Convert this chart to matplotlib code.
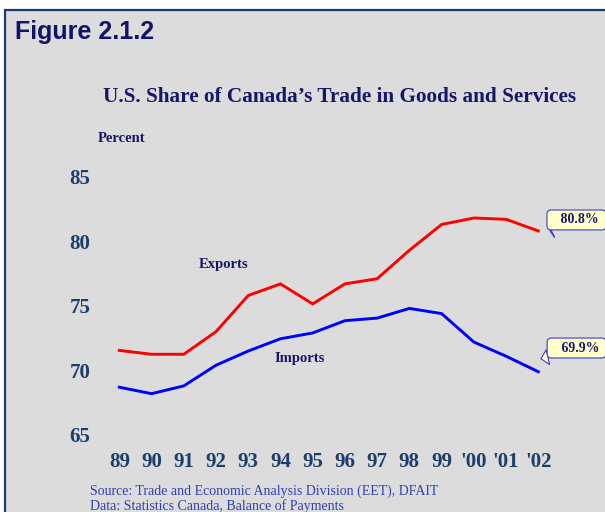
import matplotlib.pyplot as plt
import matplotlib.patches as patches
from matplotlib.transforms import offset_copy

# dados
anos = ['89', '90', '91', '92', '93', '94', '95', '96', '97', '98', '99', "'00", "'01", "'02"]
exportacoes = [71.55, 71.25, 71.25, 73.0, 75.8, 76.7, 75.15, 76.7, 77.1, 79.3, 81.3, 81.8, 81.7, 80.8]
importacoes = [68.7, 68.2, 68.8, 70.4, 71.5, 72.45, 72.9, 73.85, 74.05, 74.8, 74.4, 72.2, 71.1, 69.9]
y_ticks = [65, 70, 75, 80, 85]

serif = 'Liberation Serif'
navy = '#16166b'
tick_cor = '#1d3e6c'

fig = plt.figure(figsize=(6.05, 5.12), dpi=100, facecolor='white')

# fundo cinza com moldura
fundo = patches.Rectangle((5 / 605, -0.05), 1.1, 1 - 10 / 512 + 0.05, transform=fig.transFigure,
                          facecolor='#dcdcdc', edgecolor='#1f3a6e', linewidth=1.6, zorder=-10)
fig.patches.append(fundo)

fig.text(15 / 605, 1 - 32 / 512, 'Figure 2.1.2', fontsize=18, fontweight='bold',
         family='Liberation Sans', color='#12126a', va='center', ha='left')
fig.text(340 / 605, 1 - 97 / 512, 'U.S. Share of Canada\u2019s Trade in Goods and Services',
         fontsize=15.3, fontweight='bold', family=serif, color=navy, ha='center', va='center')
fig.text(98 / 605, 1 - 138 / 512, 'Percent', fontsize=10.5, fontweight='bold', family=serif,
         color=navy, ha='left', va='center')

ax = fig.add_axes([0.1519, 0.1504, 0.7911, 0.5045])
ax.set_facecolor('none')
x = list(range(len(anos)))
ax.plot(x, exportacoes, color='#ff0000', linewidth=2.1, solid_joinstyle='miter')
ax.plot(x, importacoes, color='#0000ff', linewidth=2.1, solid_joinstyle='miter')

ax.set_xlim(-0.85, 14)
ax.set_ylim(65, 85)
ax.set_xticks(x)
ax.set_xticklabels(anos)
ax.set_yticks(y_ticks)
for s in ax.spines.values():
    s.set_visible(False)
ax.tick_params(axis='both', length=0, labelsize=15, labelcolor=tick_cor)
ax.tick_params(axis='x', pad=12)
ax.tick_params(axis='y', pad=1)
for lab in ax.get_xticklabels() + ax.get_yticklabels():
    lab.set_fontfamily(serif)
    lab.set_fontweight('bold')

ax.text(3.22, 78.18, 'Exports', fontsize=10.5, fontweight='bold', family=serif, color=navy,
        ha='center', va='center')
ax.text(5.61, 70.9, 'Imports', fontsize=10.5, fontweight='bold', family=serif, color=navy,
        ha='center', va='center')

# balões com o último valor (a ponta fica um pouco ao lado do fim da linha)
caixa = dict(boxstyle='round,pad=0.25,rounding_size=0.3', facecolor='#ffffcc', edgecolor='#3b3bd0', linewidth=0.8)
seta = dict(arrowstyle='wedge,tail_width=1.1', facecolor='#ffffcc', edgecolor='#3b3bd0',
            linewidth=0.8, shrinkA=0, shrinkB=0, relpos=(0.17, 0.0))
ponta_exp = offset_copy(ax.transData, fig=fig, x=11.7, y=0, units='dots')
ponta_imp = offset_copy(ax.transData, fig=fig, x=2.7, y=13, units='dots')
ax.annotate(f'   {exportacoes[-1]:.1f}% ', xy=(x[-1], exportacoes[-1]), xycoords=ponta_exp,
            xytext=(19.1, 7.9), textcoords='offset points', fontsize=10, fontweight='bold',
            family=serif, color=navy, ha='center', va='center', bbox=caixa, arrowprops=seta,
            annotation_clip=False)
ax.annotate(f'   {importacoes[-1]:.1f}% ', xy=(x[-1], importacoes[-1]), xycoords=ponta_imp,
            xytext=(25.6, 7.7), textcoords='offset points', fontsize=10, fontweight='bold',
            family=serif, color=navy, ha='center', va='center', bbox=caixa, arrowprops=seta,
            annotation_clip=False)

fig.text(90 / 605, 1 - 491 / 512, 'Source: Trade and Economic Analysis Division (EET), DFAIT',
         fontsize=10, family=serif, color='#2f3fb4', ha='left', va='center')
fig.text(90 / 605, 1 - 506 / 512, 'Data: Statistics Canada, Balance of Payments',
         fontsize=10, family=serif, color='#2f3fb4', ha='left', va='center')

plt.savefig('out.png', dpi=100, facecolor=fig.get_facecolor())
